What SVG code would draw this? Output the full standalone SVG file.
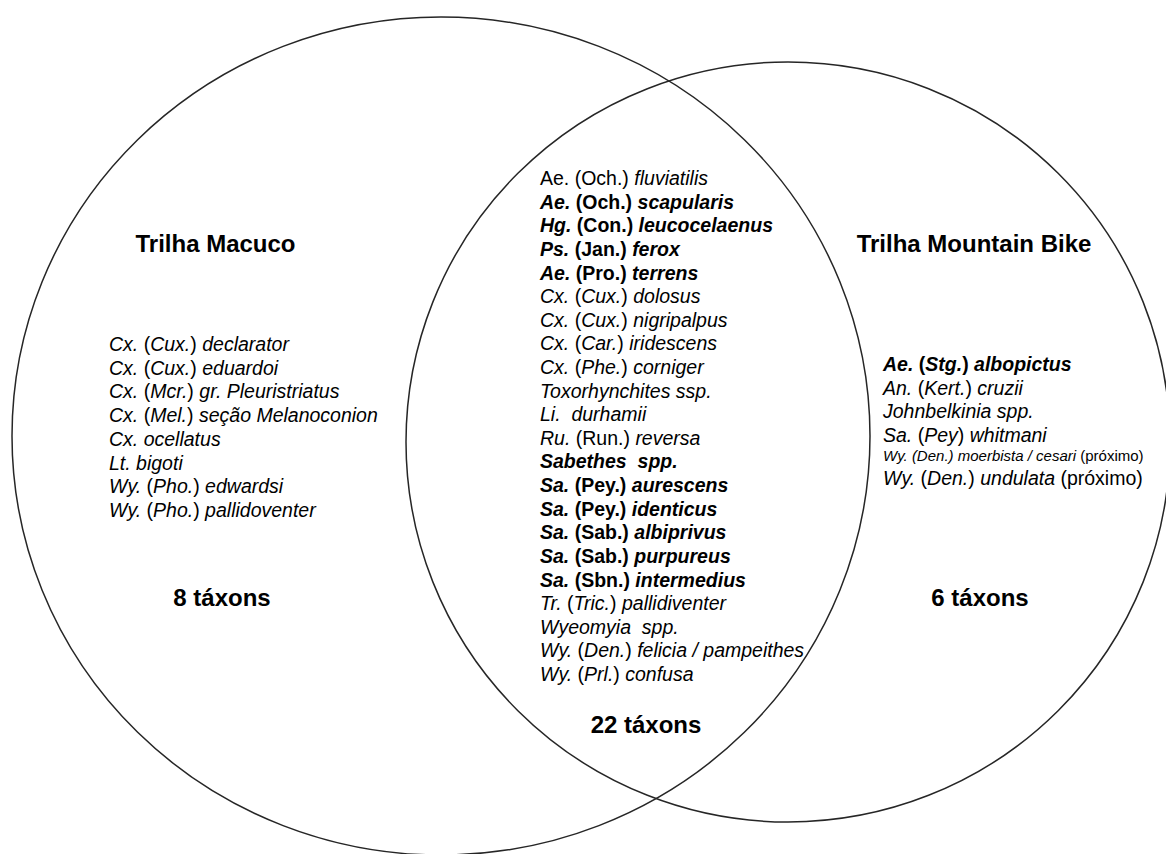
<svg xmlns="http://www.w3.org/2000/svg" width="1166" height="854" viewBox="0 0 1166 854">
<style>
.bg{fill:#ffffff}
.set{fill:none;stroke:#262626;stroke-width:1.5}
.t{font-family:"Liberation Sans",Arial,sans-serif;fill:#000}
.title{font-size:24px;font-weight:bold}
.lst{font-size:19.5px}
.b{font-weight:bold}
.i{font-style:italic}
.sm{font-size:15px}
</style>
<rect class="bg" x="0" y="0" width="1166" height="854"/>
<g id="sets">
<g id="macuco"><ellipse class="set" cx="441" cy="436" rx="429" ry="419"/></g>
<g id="mtb"><ellipse class="set" cx="788" cy="442" rx="382" ry="380"/></g>
</g>
<g id="connectors"></g>
<g id="label-macuco" class="t">
<text class="title" x="215.5" y="251.5" text-anchor="middle">Trilha Macuco</text>
<text class="title" x="222" y="606" text-anchor="middle">8 táxons</text>
</g>
<g id="list-macuco" class="t lst">
<text x="109" y="351"><tspan class="i">Cx.</tspan> (<tspan class="i">Cux.</tspan>) <tspan class="i">declarator</tspan></text>
<text x="109" y="374.7"><tspan class="i">Cx.</tspan> (<tspan class="i">Cux.</tspan>) <tspan class="i">eduardoi</tspan></text>
<text x="109" y="398.4"><tspan class="i">Cx.</tspan> (<tspan class="i">Mcr.</tspan>) <tspan class="i">gr. Pleuristriatus</tspan></text>
<text x="109" y="422.1"><tspan class="i">Cx.</tspan> (<tspan class="i">Mel.</tspan>) <tspan class="i">seção Melanoconion</tspan></text>
<text x="109" y="445.8" class="i">Cx. ocellatus</text>
<text x="109" y="469.5" class="i">Lt. bigoti</text>
<text x="109" y="493.2"><tspan class="i">Wy.</tspan> (<tspan class="i">Pho.</tspan>) <tspan class="i">edwardsi</tspan></text>
<text x="109" y="516.9"><tspan class="i">Wy.</tspan> (<tspan class="i">Pho.</tspan>) <tspan class="i">pallidoventer</tspan></text>
</g>
<g id="list-shared" class="t lst">
<text x="540" y="185">Ae. (Och.) <tspan class="i">fluviatilis</tspan></text>
<text x="540" y="208.6" class="b"><tspan class="i">Ae.</tspan> (Och.) <tspan class="i">scapularis</tspan></text>
<text x="540" y="232.2" class="b"><tspan class="i">Hg.</tspan> (Con.) <tspan class="i">leucocelaenus</tspan></text>
<text x="540" y="255.9" class="b"><tspan class="i">Ps.</tspan> (Jan.) <tspan class="i">ferox</tspan></text>
<text x="540" y="279.5" class="b"><tspan class="i">Ae.</tspan> (Pro.) <tspan class="i">terrens</tspan></text>
<text x="540" y="303.1"><tspan class="i">Cx.</tspan> (<tspan class="i">Cux.</tspan>) <tspan class="i">dolosus</tspan></text>
<text x="540" y="326.7"><tspan class="i">Cx.</tspan> (<tspan class="i">Cux.</tspan>) <tspan class="i">nigripalpus</tspan></text>
<text x="540" y="350.3"><tspan class="i">Cx.</tspan> (<tspan class="i">Car.</tspan>) <tspan class="i">iridescens</tspan></text>
<text x="540" y="374"><tspan class="i">Cx.</tspan> (<tspan class="i">Phe.</tspan>) <tspan class="i">corniger</tspan></text>
<text x="540" y="397.6" class="i">Toxorhynchites ssp.</text>
<text x="540" y="421.2" class="i" xml:space="preserve">Li.  durhamii</text>
<text x="540" y="444.8"><tspan class="i">Ru.</tspan> (Run.) <tspan class="i">reversa</tspan></text>
<text x="540" y="468.4" class="b i" xml:space="preserve">Sabethes  spp.</text>
<text x="540" y="492.1" class="b"><tspan class="i">Sa.</tspan> (Pey.) <tspan class="i">aurescens</tspan></text>
<text x="540" y="515.7" class="b"><tspan class="i">Sa.</tspan> (Pey.) <tspan class="i">identicus</tspan></text>
<text x="540" y="539.3" class="b"><tspan class="i">Sa.</tspan> (Sab.) <tspan class="i">albiprivus</tspan></text>
<text x="540" y="562.9" class="b"><tspan class="i">Sa.</tspan> (Sab.) <tspan class="i">purpureus</tspan></text>
<text x="540" y="586.5" class="b"><tspan class="i">Sa.</tspan> (Sbn.) <tspan class="i">intermedius</tspan></text>
<text x="540" y="610.2"><tspan class="i">Tr.</tspan> (<tspan class="i">Tric.</tspan>) <tspan class="i">pallidiventer</tspan></text>
<text x="540" y="633.8" class="i" xml:space="preserve">Wyeomyia  spp.</text>
<text x="540" y="657.4"><tspan class="i">Wy.</tspan> (<tspan class="i">Den.</tspan>) <tspan class="i">felicia / pampeithes</tspan></text>
<text x="540" y="681"><tspan class="i">Wy.</tspan> (<tspan class="i">Prl.</tspan>) <tspan class="i">confusa</tspan></text>
</g>
<g id="label-shared" class="t">
<text class="title" x="646" y="733" text-anchor="middle">22 táxons</text>
</g>
<g id="label-mtb" class="t">
<text class="title" x="974" y="251.5" text-anchor="middle">Trilha Mountain Bike</text>
<text class="title" x="980" y="606" text-anchor="middle">6 táxons</text>
</g>
<g id="list-mtb" class="t lst">
<text x="883" y="371" class="b"><tspan class="i">Ae.</tspan> (<tspan class="i">Stg.</tspan>) <tspan class="i">albopictus</tspan></text>
<text x="883" y="395"><tspan class="i">An.</tspan> (<tspan class="i">Kert.</tspan>) <tspan class="i">cruzii</tspan></text>
<text x="883" y="418" class="i">Johnbelkinia spp.</text>
<text x="883" y="442"><tspan class="i">Sa.</tspan> (<tspan class="i">Pey</tspan>) <tspan class="i">whitmani</tspan></text>
<text x="883" y="461"><tspan class="i sm">Wy. (Den.) moerbista / cesari</tspan><tspan class="sm"> (próximo)</tspan></text>
<text x="883" y="485"><tspan class="i">Wy.</tspan> (<tspan class="i">Den.</tspan>) <tspan class="i">undulata</tspan> (próximo)</text>
</g>
</svg>
